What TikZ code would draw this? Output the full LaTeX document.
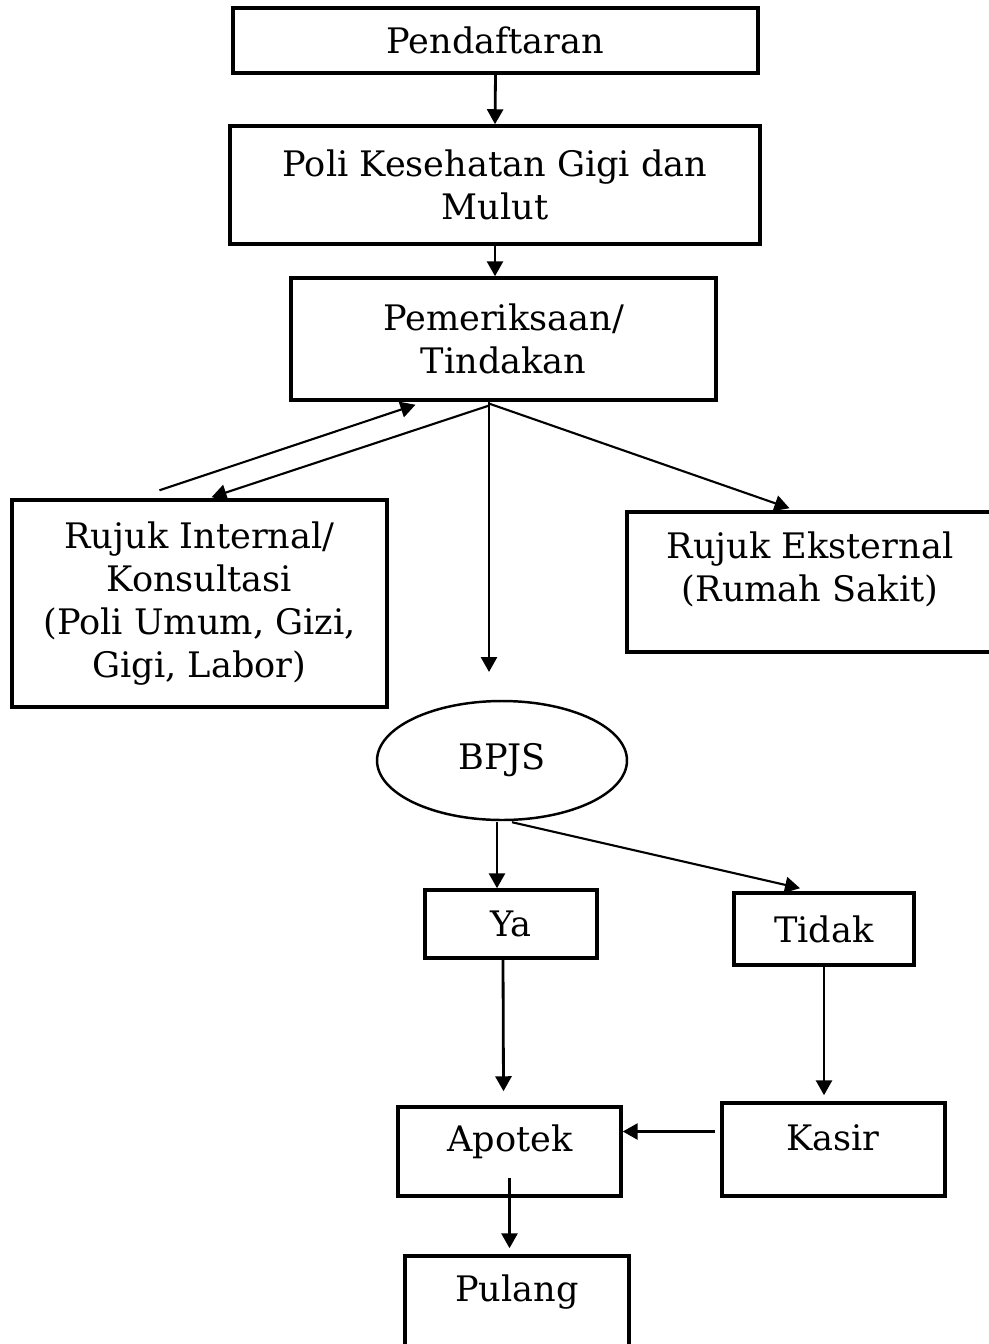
\documentclass[tikz,border=0pt]{standalone}
\usepackage{fontspec}
\setmainfont{DejaVu Serif}
\usetikzlibrary{arrows.meta,calc,shapes.geometric}

\tikzset{
  kotak/.style={draw, line width=2pt, inner sep=0pt},
  teks/.style={align=center, font=\fontsize{20}{24.5}\selectfont},
  panah/.style={line width=1.6pt, -{Triangle[length=0.3cm,width=0.32cm]}}
}

\begin{document}
\begin{tikzpicture}[x=0.02cm,y=-0.02cm]
        \useasboundingbox (0,0) rectangle (988,1344);

        % kotak-kotak
        \node[kotak, teks, minimum width=10.5cm, minimum height=1.3cm] (daftar) at (495.5,40.5) {Pendaftaran};
        \node[kotak, teks, minimum width=10.6cm, minimum height=2.36cm] (poli) at (495,185) {Poli Kesehatan Gigi dan\\Mulut};
        \node[kotak, teks, minimum width=8.5cm, minimum height=2.44cm] (periksa) at (503.5,339) {Pemeriksaan/\\Tindakan};
        \node[kotak, teks, minimum width=7.5cm, minimum height=4.14cm] (internal) at (199.5,603.5) {Rujuk Internal/\\Konsultasi\\(Poli Umum, Gizi,\\Gigi, Labor)};
        \node[kotak, minimum width=7.3cm, minimum height=2.8cm] (eksternal) at (809.5,582) {};
        \node[teks] (eksternal-t) at (810,569) {Rujuk Eksternal\\(Rumah Sakit)};
        \node[ellipse, draw, line width=1.4pt, teks, minimum width=5cm, minimum height=2.38cm, inner sep=0pt] (bpjs) at (502,760.5) {BPJS};
        \node[kotak, teks, minimum width=3.44cm, minimum height=1.36cm] (ya) at (511,924) {Ya};
        \node[kotak, teks, minimum width=3.6cm, minimum height=1.44cm] (tidak) at (824,929) {Tidak};
        \node[kotak, minimum width=4.46cm, minimum height=1.78cm] (apotek) at (509.5,1151.5) {};
        \node[teks] (apotek-t) at (510,1142) {Apotek};
        \node[kotak, minimum width=4.46cm, minimum height=1.86cm] (kasir) at (833.5,1149.5) {};
        \node[teks] (kasir-t) at (833,1138) {Kasir};
        \node[kotak, minimum width=4.48cm, minimum height=2.28cm] (pulang) at (517,1313) {};
        \node[teks] (pulang-t) at (517,1292) {Pulang};

        % titik bantu
        \coordinate (bpjs-in) at (489,672);
        \coordinate (bpjs-out) at ($(bpjs.south)+(-5,1)$);
        \coordinate (kasir-out) at ($(kasir.west)+(-5,-18)$);

        % panah
        \draw[panah] (daftar.south) -- (poli.north);
        \draw[panah] (poli.south) -- (poli.south |- periksa.north);
        \draw[panah] (periksa.south -| bpjs-in) -- (bpjs-in);
        \draw[panah, line width=1.2pt] ($(periksa.south)+(-14,2)$) -- ($(eksternal.north)+(-20,-2)$);
        \draw[panah, line width=1.2pt] ($(internal.north)+(-40,-8)$) -- ($(periksa.south)+(-88,3)$);
        \draw[panah, line width=1.2pt] ($(periksa.south)+(-15,4)$) -- ($(internal.north)+(12,-1)$);
        \draw[panah] (bpjs-out) -- (bpjs-out |- ya.north);
        \draw[panah, line width=1.2pt] ($(bpjs.south)+(10,1)$) -- ($(tidak.north)+(-24,-3)$);
        \draw[panah] ($(ya.south)+(-8,0)$) -- ($(apotek.north)+(-6,-14)$);
        \draw[panah] (tidak.south) -- ($(tidak.south |- kasir.north)+(0,-6)$);
        \draw[panah] (kasir-out) -- (apotek.east |- kasir-out);
        \draw[panah] ($(apotek.south)+(0,-20)$) -- ($(apotek.south |- pulang.north)+(0,-6)$);
\end{tikzpicture}
\end{document}
